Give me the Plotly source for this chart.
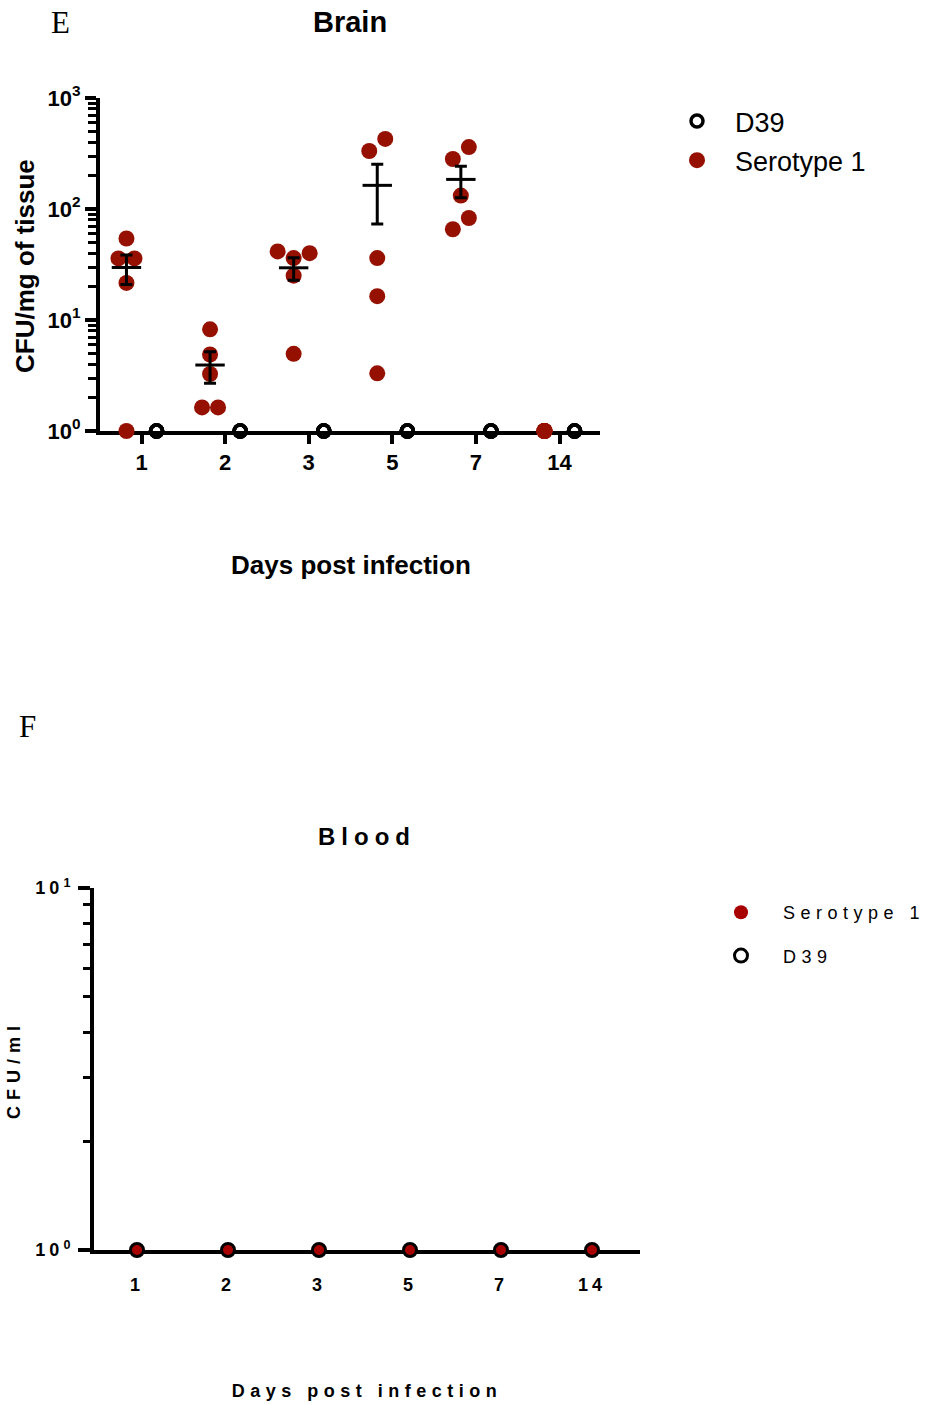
import math
import json
import plotly.graph_objects as go

# ---------------------------------------------------------------- data
days = ["1", "2", "3", "5", "7", "14"]

# Brain, CFU/mg of tissue (five mice per time point)
brain_serotype1 = [
    [54.2, 35.9, 35.9, 21.6, 1.0],
    [8.24, 4.89, 3.26, 1.63, 1.63],
    [40.0, 36.1, 41.5, 25.1, 4.96],
    [428.0, 333.0, 36.1, 16.4, 3.31],
    [361.0, 282.0, 132.0, 83.0, 65.7],
    [1.0, 1.0, 1.0, 1.0, 1.0],
]
brain_d39 = [
    [1.0, 1.0, 1.0, 1.0, 1.0],
    [1.0, 1.0, 1.0, 1.0, 1.0],
    [1.0, 1.0, 1.0, 1.0, 1.0],
    [1.0, 1.0, 1.0, 1.0, 1.0],
    [1.0, 1.0, 1.0, 1.0, 1.0],
    [1.0, 1.0, 1.0, 1.0, 1.0],
]

# Blood, CFU/ml
blood_serotype1 = [1.0, 1.0, 1.0, 1.0, 1.0, 1.0]
blood_d39 = [1.0, 1.0, 1.0, 1.0, 1.0, 1.0]

brain_ticks = ["10<sup>0</sup>", "10<sup>1</sup>", "10<sup>2</sup>", "10<sup>3</sup>"]
blood_ticks = ["10<sup>0</sup>", "10<sup>1</sup>"]

# ---------------------------------------------------------------- layout geometry
W, H = 926, 1405
SANS = "Arial, Liberation Sans, sans-serif"
SERIF = "Times New Roman, Liberation Serif, serif"
RED_TOP = "#961000"
RED_BOT = "#A80000"

# brain panel (pixel box of the plotting area)
B_LEFT, B_RIGHT, B_TOP, B_BOT = 100, 600, 98, 431
B_X0, B_DX = 141.5, 83.6          # pixel of first day, pixels per day
B_XMIN = -(B_X0 - B_LEFT) / B_DX
B_XMAX = B_XMIN + (B_RIGHT - B_LEFT) / B_DX
B_DECADES = 3
B_PX_DECADE = (B_BOT - B_TOP) / B_DECADES
GROUP_SHIFT = 0.18                 # side-by-side offset of the two strains

# blood panel
L_LEFT, L_RIGHT, L_TOP, L_BOT = 94, 640, 888, 1250
L_X0, L_DX = 137, 91
L_XMIN = -(L_X0 - L_LEFT) / L_DX
L_XMAX = L_XMIN + (L_RIGHT - L_LEFT) / L_DX


def px(x):
    return x / W


def py(y):
    return 1 - y / H


def swarm(values, diam, floor=1.0):
    """Horizontal offsets (in day units) so that dots of one group do not overlap."""
    order = sorted(range(len(values)), key=lambda i: values[i])
    placed = {}
    steps = [0] + [s * k for k in range(1, 8) for s in (1, -1)]
    for i in order:
        v = values[i]
        if v <= floor:
            continue
        yy = math.log10(v) * B_PX_DECADE
        xo = 0.0
        for s in steps:
            xo = s * diam / 2
            if all((xo - a) ** 2 + (yy - b) ** 2 >= (0.95 * diam) ** 2 for a, b in placed.values()):
                break
        placed[i] = (xo, yy)
    # centre each run of vertically crowded dots on the group position
    keys = sorted(placed, key=lambda k: placed[k][1])
    clusters, cur = [], []
    for k in keys:
        if cur and placed[k][1] - placed[cur[-1]][1] >= diam:
            clusters.append(cur)
            cur = []
        cur.append(k)
    if cur:
        clusters.append(cur)
    offs = [0.0] * len(values)
    for cl in clusters:
        shift = sum(placed[k][0] for k in cl) / len(cl)
        for k in cl:
            offs[k] = (placed[k][0] - shift) / B_DX
    return offs


def mean_sem(vals):
    n = len(vals)
    m = sum(vals) / n
    sd = math.sqrt(sum((v - m) ** 2 for v in vals) / (n - 1))
    return m, sd / math.sqrt(n)


fig = go.Figure()

# ---------------------------------------------------------------- brain panel
DOT = 16
d39_x, d39_y = [], []
for i, vals in enumerate(brain_d39):
    for v in vals:
        d39_x.append(i + GROUP_SHIFT)
        d39_y.append(v)
fig.add_trace(go.Scatter(
    x=d39_x, y=d39_y, mode="markers", name="D39", legend="legend",
    legendgroup="a1",
    marker=dict(symbol="circle-open", size=12, color="black", line=dict(width=3.5, color="black")),
    cliponaxis=False, xaxis="x", yaxis="y",
))

s1_x, s1_y = [], []
for i, vals in enumerate(brain_serotype1):
    offs = swarm(vals, DOT)
    for v, o in zip(vals, offs):
        s1_x.append(i - GROUP_SHIFT + o)
        s1_y.append(v)
fig.add_trace(go.Scatter(
    x=s1_x, y=s1_y, mode="markers", name="Serotype 1", legend="legend",
    legendgroup="a2",
    marker=dict(symbol="circle", size=DOT, color=RED_TOP, line=dict(width=0)),
    cliponaxis=False, xaxis="x", yaxis="y",
))

# mean +/- SEM for each day
mx, my, eup, edn = [], [], [], []
for i, vals in enumerate(brain_serotype1):
    m, se = mean_sem(vals)
    if se == 0:
        continue
    mx.append(i - GROUP_SHIFT)
    my.append(m)
    eup.append(se)
    edn.append(se)
fig.add_trace(go.Scatter(
    x=mx, y=my, mode="markers", showlegend=False, hoverinfo="skip",
    marker=dict(symbol="line-ew", size=21, color="black", line=dict(width=3, color="black")),
    error_y=dict(type="data", array=eup, arrayminus=edn, symmetric=False,
                 color="black", thickness=3, width=6),
    cliponaxis=False, xaxis="x", yaxis="y",
))

# ---------------------------------------------------------------- blood panel
fig.add_trace(go.Scatter(
    x=list(range(len(days))), y=blood_serotype1, mode="markers", name="Serotype 1",
    legend="legend2", legendgroup="b1",
    marker=dict(symbol="circle", size=14, color=RED_BOT, line=dict(width=0)),
    cliponaxis=False, xaxis="x2", yaxis="y2",
))
fig.add_trace(go.Scatter(
    x=list(range(len(days))), y=blood_d39, mode="markers", name="D39",
    legend="legend2", legendgroup="b2",
    marker=dict(symbol="circle-open", size=13, color="black", line=dict(width=3, color="black")),
    cliponaxis=False, xaxis="x2", yaxis="y2",
))

# ---------------------------------------------------------------- axes
tick_font_top = dict(family=SANS, size=22, color="black", weight="bold")
tick_font_bot = dict(family=SANS, size=18, color="black", weight="bold")

minor_top = [m * 10 ** e for e in range(B_DECADES) for m in range(2, 10)]
minor_bot = [m for m in range(2, 10)]

fig.update_layout(
    width=W, height=H,
    margin=dict(l=0, r=0, t=0, b=0, autoexpand=False),
    paper_bgcolor="white", plot_bgcolor="white",
    font=dict(family=SANS, color="black"),
    xaxis=dict(
        domain=[px(B_LEFT), px(B_RIGHT)], range=[B_XMIN, B_XMAX],
        tickmode="array", tickvals=list(range(len(days))), ticktext=days,
        ticks="outside", ticklen=9, tickwidth=4, tickcolor="black",
        showline=True, linewidth=4, linecolor="black", layer="below traces",
        showgrid=False, zeroline=False, tickfont=tick_font_top, anchor="y",
        automargin=False,
    ),
    yaxis=dict(
        type="log", domain=[py(B_BOT), py(B_TOP)], range=[0, B_DECADES],
        tickmode="array", tickvals=[10 ** k for k in range(B_DECADES + 1)], ticktext=brain_ticks,
        ticks="outside", ticklen=11, tickwidth=4, tickcolor="black",
        minor=dict(tickmode="array", tickvals=minor_top, ticks="outside",
                   ticklen=8, tickwidth=3, tickcolor="black", showgrid=False),
        showline=True, linewidth=4, linecolor="black", layer="below traces",
        showgrid=False, zeroline=False, tickfont=tick_font_top, anchor="x",
        automargin=False,
    ),
    xaxis2=dict(
        domain=[px(L_LEFT), px(L_RIGHT)], range=[L_XMIN, L_XMAX],
        tickmode="array", tickvals=list(range(len(days))), ticktext=days,
        ticks="outside", ticklen=15, tickwidth=1, tickcolor="rgba(0,0,0,0)",
        showline=True, linewidth=4, linecolor="black", layer="below traces",
        showgrid=False, zeroline=False, tickfont=tick_font_bot, anchor="y2",
        automargin=False,
    ),
    yaxis2=dict(
        type="log", domain=[py(L_BOT), py(L_TOP)], range=[0, 1],
        tickmode="array", tickvals=[1, 10], ticktext=blood_ticks,
        ticks="outside", ticklen=12, tickwidth=4, tickcolor="black",
        minor=dict(tickmode="array", tickvals=minor_bot, ticks="outside",
                   ticklen=7, tickwidth=3, tickcolor="black", showgrid=False),
        showline=True, linewidth=4, linecolor="black", layer="below traces",
        showgrid=False, zeroline=False, tickfont=tick_font_bot, anchor="x2",
        automargin=False,
    ),
    legend=dict(
        x=px(659), y=py(97), xanchor="left", yanchor="top",
        font=dict(family=SANS, size=27, color="black"),
        bgcolor="rgba(0,0,0,0)", borderwidth=0, tracegroupgap=1,
        itemsizing="trace", itemclick=False, itemwidth=66,
    ),
    legend2=dict(
        x=px(699), y=py(894), xanchor="left", yanchor="top",
        font=dict(family=SANS, size=18, color="black"),
        bgcolor="rgba(0,0,0,0)", borderwidth=0, tracegroupgap=17,
        itemsizing="trace", itemclick=False, itemwidth=74,
    ),
)

# ---------------------------------------------------------------- titles and panel letters
def label(text, x, y, size, family=SANS, bold=True, angle=0):
    return dict(
        text=text, x=px(x), y=py(y), xref="paper", yref="paper",
        xanchor="center", yanchor="middle", showarrow=False, textangle=angle,
        font=dict(family=family, size=size, color="black", weight="bold" if bold else "normal"),
    )


annotations = [
    label("E", 60, 22, 31, family=SERIF, bold=False),
    label("Brain", 350, 22, 29),
    label("CFU/mg of tissue", 25, 266, 26, angle=-90),
    label("Days post infection", 351, 565, 26),
    label("F", 27, 726, 31, family=SERIF, bold=False),
    label("Blood", 367, 836, 24),
    label("CFU/ml", 14, 1070, 18, angle=-90),
    label("Days post infection", 367, 1391, 18),
]
fig.update_layout(annotations=annotations)

# wide letter spacing used for the blood panel lettering
spaced_annotations = {5: "6px", 6: "6px", 7: "5.5px"}
post = """
var gd = document.getElementById('{plot_id}');
var spaced = %s;
var css = document.createElement('style');
css.textContent = '.x2tick text, .y2tick text { letter-spacing: 4px; } ' +
                  'g.legend2 text.legendtext { letter-spacing: 5.5px; }';
document.head.appendChild(css);
function spaceOut() {
  gd.querySelectorAll('g.annotation').forEach(function(g){
    var idx = g.getAttribute('data-index');
    if (spaced[idx]) {
      g.querySelectorAll('text').forEach(function(t){ t.style.letterSpacing = spaced[idx]; });
    }
  });
  var top0 = gd.getBoundingClientRect().top;
  gd.querySelectorAll('text').forEach(function(t){
    var s = t.textContent;
    if ((s === 'Serotype 1' || s === 'D39') && t.getBoundingClientRect().top - top0 > 700) {
      t.style.letterSpacing = '5.5px';
    }
  });
  // the wider legend lettering must not be cut by the legend clip box
  gd.querySelectorAll('g.scrollbox, g.legend2, g.legend2 g').forEach(function(g){
    g.removeAttribute('clip-path');
  });
}
spaceOut();
setTimeout(spaceOut, 0);
setTimeout(spaceOut, 200);
setTimeout(spaceOut, 800);
""" % json.dumps({str(k): v for k, v in spaced_annotations.items()})

fig.write_html("out.html", post_script=post, config={"displayModeBar": False})
